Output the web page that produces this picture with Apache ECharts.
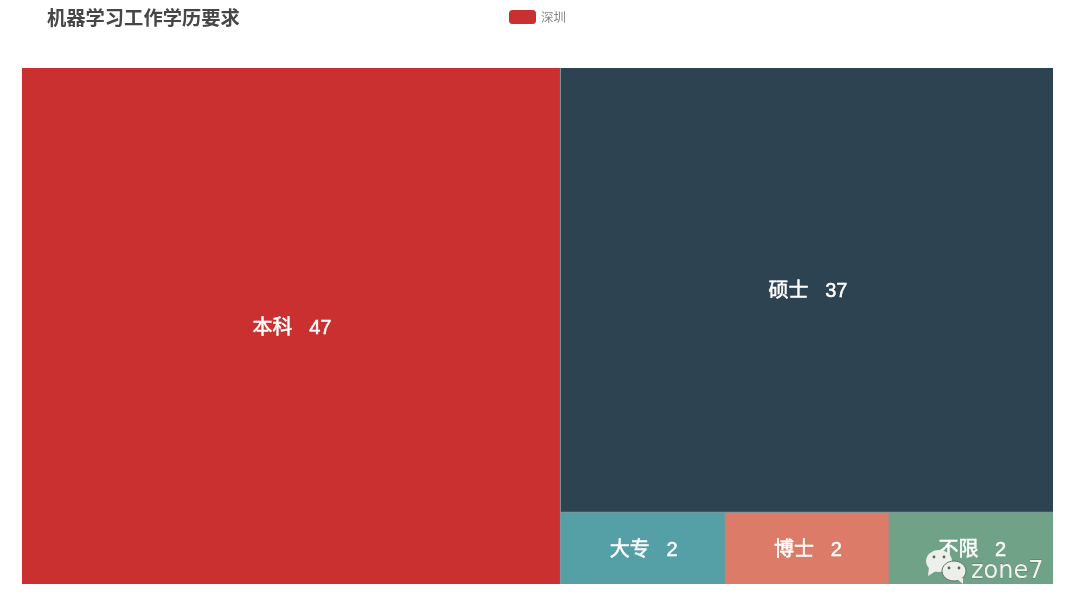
<!DOCTYPE html>
<html><head><meta charset="utf-8">
<style>html,body{margin:0;padding:0;background:#fff}#c{width:1080px;height:614px}</style>
<script src="https://cdn.jsdelivr.net/npm/echarts@6/dist/echarts.min.js"></script>
</head><body><div id="c"></div>
<script>
const categories = ['本科','硕士','大专','博士','不限'];
const values = [47,37,2,2,2];
const colors = ['#c9302f','#2d4352','#55a0a6','#dc7c68','#6fa287'];
const seriesName = '深圳';
const titleText = '机器学习工作学历要求';
const watermark = 'zone7';

const chart = echarts.init(document.getElementById('c'), null, {renderer:'canvas'});
const F = '"Noto Sans CJK SC","Noto Sans",sans-serif';
const bubble = '#ecefea', eye = '#55685e', Z = 100;
chart.setOption({
  animation:false,
  color:colors,
  textStyle:{fontFamily:F},
  title:{text:titleText,left:47,top:8,padding:0,textStyle:{fontSize:19.3,fontWeight:'bold',color:'#464646',fontFamily:F}},
  legend:{data:[seriesName],left:509,top:10,padding:0,itemWidth:27,itemHeight:14,itemGap:6,
    icon:'roundRect',
    itemStyle:{color:colors[0]},
    textStyle:{fontSize:12.5,color:'#888',fontFamily:F}},
  series:[{
    type:'treemap',name:seriesName,
    left:22,top:68,width:1031,height:516,
    roam:false,nodeClick:false,sort:false,
    breadcrumb:{show:false},
    itemStyle:{borderWidth:0,gapWidth:1,borderColor:'#7f979c'},
    label:{show:true,position:'inside',align:'center',verticalAlign:'middle',offset:[1,2],
      formatter:'{b}   {c}',fontSize:20,fontWeight:'normal',color:'#fff',
      fontFamily:'"Liberation Sans","Noto Sans CJK SC",sans-serif',
      textBorderColor:'#fff',textBorderWidth:0.5},
    data:categories.map((n,i)=>({name:n,value:values[i],itemStyle:{color:colors[i]}}))
  }],
  graphic:[
    {type:'group',x:926,y:549,silent:true,children:[
      {type:'ellipse',z:Z,shape:{cx:13,cy:12,rx:13,ry:11},style:{fill:bubble}},
      {type:'polygon',z:Z,shape:{points:[[3,18],[10,22],[2,27]]},style:{fill:bubble}},
      {type:'circle',z:Z,shape:{cx:8,cy:8,r:1.4},style:{fill:eye}},
      {type:'circle',z:Z,shape:{cx:18,cy:8,r:1.4},style:{fill:eye}},
      {type:'ellipse',z:Z,shape:{cx:28,cy:22,rx:12,ry:10},style:{fill:bubble,stroke:'#5b7567',lineWidth:1}},
      {type:'polygon',z:Z,shape:{points:[[31,30],[37,29],[37,35]]},style:{fill:bubble}},
      {type:'circle',z:Z,shape:{cx:23,cy:19,r:1.4},style:{fill:eye}},
      {type:'circle',z:Z,shape:{cx:33,cy:19,r:1.4},style:{fill:eye}}
    ]},
    {type:'text',x:971,y:560,silent:true,z:Z,
      style:{text:watermark,fontSize:24,fontFamily:'"DejaVu Sans",sans-serif',fill:'#f0f2ee',stroke:'#3d4a42',lineWidth:0.3}}
  ]
});
</script></body></html>
